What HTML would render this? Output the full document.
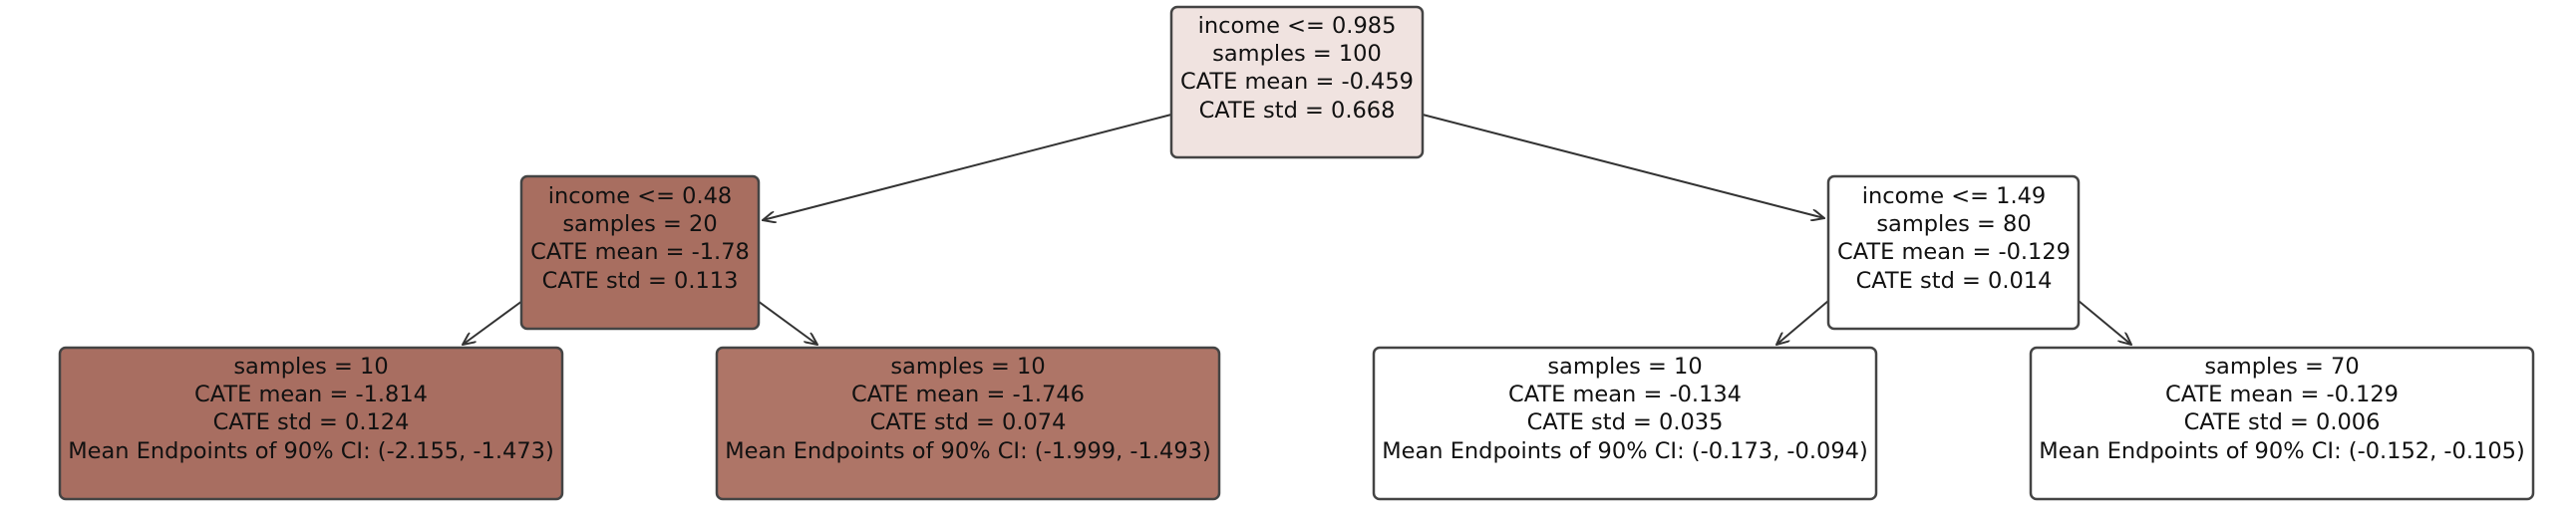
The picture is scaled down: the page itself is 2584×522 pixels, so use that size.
<!DOCTYPE html>
<html><head><meta charset="utf-8"><style>
html,body{margin:0;padding:0;background:#fff;width:2584px;height:522px;overflow:hidden}
svg text{font-family:"DejaVu Sans","Liberation Sans",sans-serif;font-size:22.5px;fill:#111;text-anchor:middle}
</style></head><body>
<svg width="2584" height="522" xmlns="http://www.w3.org/2000/svg">
<defs><marker id="a" markerWidth="14" markerHeight="12" refX="13" refY="6" orient="auto" markerUnits="userSpaceOnUse">
<path d="M0,0 L13,6 L0,12" fill="none" stroke="#333" stroke-width="2"/></marker></defs>
<g stroke="#333" stroke-width="2" fill="none" marker-end="url(#a)">
<line x1="1175" y1="115" x2="765" y2="221"/>
<line x1="1427" y1="115" x2="1830" y2="219"/>
<line x1="524" y1="302" x2="464" y2="346"/>
<line x1="760" y1="302" x2="820" y2="346"/>
<line x1="1834" y1="302" x2="1782" y2="346"/>
<line x1="2085" y1="302" x2="2138" y2="346"/>
</g>
<g stroke="#444" stroke-width="2.5">
<rect x="1175" y="7" width="252" height="151" rx="6" fill="#f0e3e0"/>
<rect x="523" y="177" width="238" height="153" rx="6" fill="#a86e60"/>
<rect x="1834" y="177" width="251" height="153" rx="6" fill="#ffffff"/>
<rect x="60" y="349" width="504" height="152" rx="6" fill="#a86e61"/>
<rect x="719" y="349" width="504" height="152" rx="6" fill="#ae7567"/>
<rect x="1378" y="349" width="504" height="152" rx="6" fill="#ffffff"/>
<rect x="2037" y="349" width="504" height="152" rx="6" fill="#ffffff"/>
</g>
<text x="1301" y="33">income &lt;= 0.985</text>
<text x="1301" y="61">samples = 100</text>
<text x="1301" y="89">CATE mean = -0.459</text>
<text x="1301" y="118">CATE std = 0.668</text>

<text x="642" y="204">income &lt;= 0.48</text>
<text x="642" y="232">samples = 20</text>
<text x="642" y="260">CATE mean = -1.78</text>
<text x="642" y="289">CATE std = 0.113</text>

<text x="1960" y="204">income &lt;= 1.49</text>
<text x="1960" y="232">samples = 80</text>
<text x="1960" y="260">CATE mean = -0.129</text>
<text x="1960" y="289">CATE std = 0.014</text>

<text x="312" y="375">samples = 10</text>
<text x="312" y="403">CATE mean = -1.814</text>
<text x="312" y="431">CATE std = 0.124</text>
<text x="312" y="460">Mean Endpoints of 90% CI: (-2.155, -1.473)</text>

<text x="971" y="375">samples = 10</text>
<text x="971" y="403">CATE mean = -1.746</text>
<text x="971" y="431">CATE std = 0.074</text>
<text x="971" y="460">Mean Endpoints of 90% CI: (-1.999, -1.493)</text>

<text x="1630" y="375">samples = 10</text>
<text x="1630" y="403">CATE mean = -0.134</text>
<text x="1630" y="431">CATE std = 0.035</text>
<text x="1630" y="460">Mean Endpoints of 90% CI: (-0.173, -0.094)</text>

<text x="2289" y="375">samples = 70</text>
<text x="2289" y="403">CATE mean = -0.129</text>
<text x="2289" y="431">CATE std = 0.006</text>
<text x="2289" y="460">Mean Endpoints of 90% CI: (-0.152, -0.105)</text>
</svg>
</body></html>
